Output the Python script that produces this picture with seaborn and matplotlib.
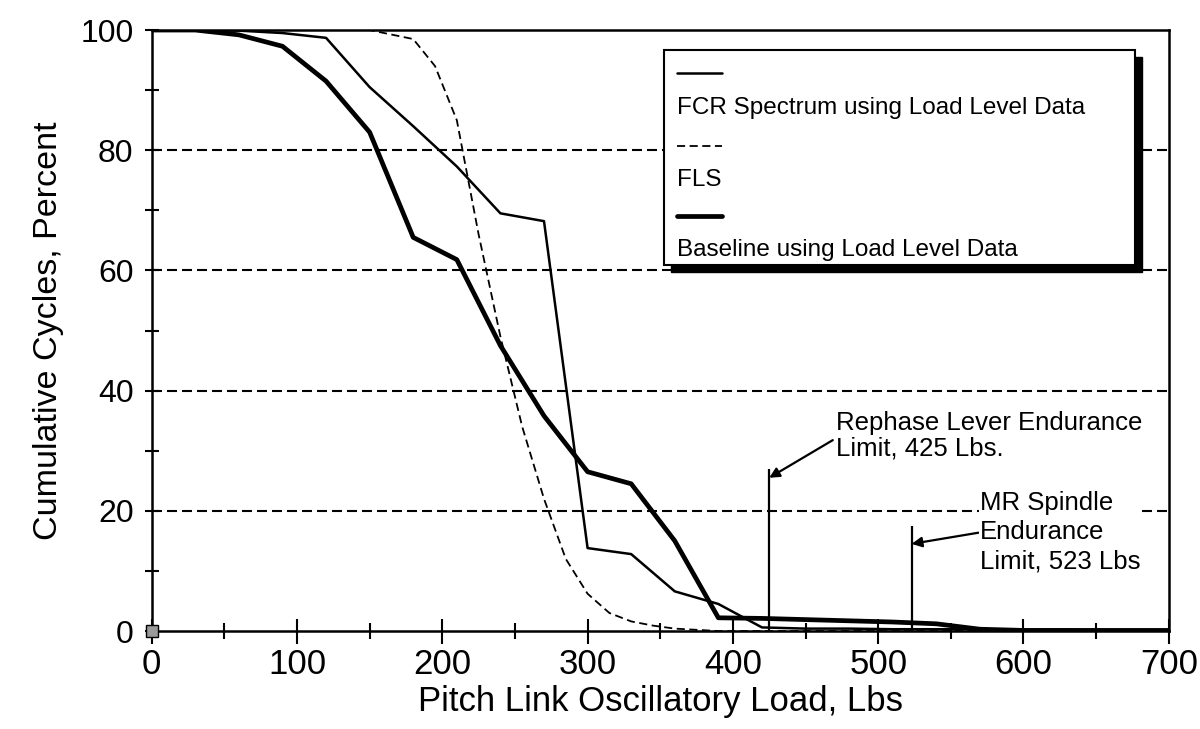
import numpy as np
import pandas as pd
import matplotlib
matplotlib.use('Agg')
import matplotlib.pyplot as plt
from matplotlib.patches import Rectangle
import seaborn as sns

# data
load = [0, 30, 60, 90, 120, 150, 180, 210, 240, 270, 300, 330, 360, 390,
        420, 450, 480, 510, 540, 570, 600, 630, 660, 700]
fcr_pct = [100, 100, 99.9, 99.5, 98.7, 90.5, 84, 77.3, 69.5, 68.2, 13.8, 12.8,
           6.6, 4.5, 0.6, 0.4, 0.4, 0.3, 0.3, 0.3, 0.2, 0.2, 0.1, 0.1]
base_pct = [100, 100, 99.2, 97.3, 91.5, 83, 65.5, 61.8, 47.5, 35.8, 26.5, 24.5,
            15, 2.2, 2.1, 1.9, 1.7, 1.5, 1.2, 0.3, 0.1, 0.1, 0.1, 0.1]
fls_load = [0, 150, 180, 195, 210, 225, 240, 248, 255, 270, 285, 300, 315,
            330, 345, 360, 390, 700]
fls_pct = [100, 100, 98.5, 94, 85, 66, 49, 41, 34, 22, 12, 6.2, 3, 1.6, 0.9,
           0.4, 0, 0]

limit_loads = [425, 523]
limit_tops = [27, 17.5]
limit_labels = ['Rephase Lever Endurance\nLimit, 425 Lbs.',
                'MR Spindle\nEndurance\nLimit, 523 Lbs']
legend_labels = ['FCR Spectrum using Load Level Data', 'FLS',
                 'Baseline using Load Level Data']
origin_pt = [0, 0]

sns.set_theme(style='white')
plt.rcParams['font.family'] = ['Liberation Sans', 'DejaVu Sans']
plt.rcParams.update({'text.color': 'black', 'axes.labelcolor': 'black',
                     'xtick.color': 'black', 'ytick.color': 'black'})

fig = plt.figure(figsize=(12, 7.29), dpi=100)
ax = fig.add_axes([0.1264, 0.1344, 0.8476, 0.8244])

grid_dash = (0, (4.8, 2.4))
for g in [20, 40, 60, 80]:
    ax.axhline(g, color='black', lw=1.5, ls=grid_dash, zorder=1)

sns.lineplot(x=load, y=fcr_pct, ax=ax, color='black', lw=1.8, zorder=3)
sns.lineplot(x=fls_load, y=fls_pct, ax=ax, color='black', lw=1.3,
             linestyle=(0, (4.5, 2.5)), zorder=3)
sns.lineplot(x=load, y=base_pct, ax=ax, color='black', lw=3.4, zorder=4)

# endurance limit markers
ax.vlines(limit_loads, 0, limit_tops, color='black', lw=1.6, zorder=3)
ax.annotate(limit_labels[0], xy=(limit_loads[0], limit_tops[0] - 1.5),
            xytext=(471, 32.5), fontsize=18.5, va='center', ha='left',
            linespacing=1.1,
            arrowprops=dict(arrowstyle='-|>', color='black', lw=1.6,
                            mutation_scale=15, shrinkA=0, shrinkB=0,
                            relpos=(0, 0.45)))
ax.annotate(limit_labels[1], xy=(limit_loads[1], limit_tops[1] - 3),
            xytext=(570, 16.4), fontsize=18.5, va='center', ha='left',
            linespacing=1.27,
            bbox=dict(facecolor='white', edgecolor='none', pad=1),
            arrowprops=dict(arrowstyle='-|>', color='black', lw=1.6,
                            mutation_scale=15, shrinkA=0, shrinkB=0,
                            relpos=(0, 0.5)))

ax.plot(origin_pt[0], origin_pt[1], marker='s', ms=9, mfc='#9a9a9a',
        mec='black', mew=1, clip_on=False, zorder=6)

ax.set_xlim(0, 700)
ax.set_ylim(0, 100)
ax.set_xticks(np.arange(0, 701, 100))
ax.set_xticks(np.arange(50, 701, 100), minor=True)
ax.set_yticks(np.arange(0, 101, 20))
ax.set_yticks(np.arange(10, 101, 20), minor=True)
ax.tick_params(axis='both', which='both', direction='inout', color='black',
               labelcolor='black', width=1.5, bottom=True, left=True)
ax.tick_params(axis='x', which='major', length=18, labelsize=25, pad=3)
ax.tick_params(axis='x', which='minor', length=11)
ax.tick_params(axis='y', which='major', length=10, labelsize=23, pad=8)
ax.tick_params(axis='y', which='minor', length=10)
for s in ax.spines.values():
    s.set_color('black')
    s.set_linewidth(1.8)

ax.set_xlabel('Pitch Link Oscillatory Load, Lbs', fontsize=25, labelpad=3)
ax.set_ylabel('Cumulative Cycles, Percent', fontsize=24.5, labelpad=12)

# excel-style legend with sample above each label and a solid drop shadow
lx0, lx1, ly0, ly1 = 0.504, 0.967, 0.609, 0.967
ax.add_patch(Rectangle((lx0 + 0.007, ly0 - 0.012), lx1 - lx0, ly1 - ly0,
                       transform=ax.transAxes, facecolor='black',
                       edgecolor='black', zorder=7))
ax.add_patch(Rectangle((lx0, ly0), lx1 - lx0, ly1 - ly0,
                       transform=ax.transAxes, facecolor='white',
                       edgecolor='black', lw=1.5, zorder=8))
styles = [dict(lw=1.8, ls='-'), dict(lw=1.3, ls=(0, (4.5, 2.5))),
          dict(lw=3.4, ls='-')]
sample_y = [0.928, 0.807, 0.690]
text_y = [0.870, 0.750, 0.634]
for lab, st, sy, ty in zip(legend_labels, styles, sample_y, text_y):
    ax.plot([0.516, 0.561], [sy, sy], transform=ax.transAxes, color='black',
            zorder=9, **st)
    ax.text(0.516, ty, lab, transform=ax.transAxes, fontsize=17.5,
            va='center', ha='left', zorder=9)

fig.savefig('out.png', dpi=100)
